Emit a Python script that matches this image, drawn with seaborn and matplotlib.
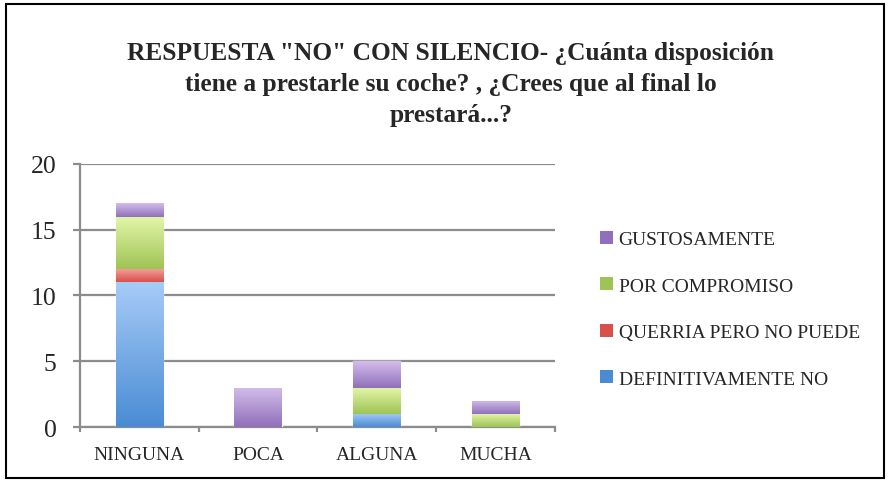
import numpy as np
import pandas as pd
import seaborn as sb
import matplotlib.pyplot as plt
from matplotlib.colors import LinearSegmentedColormap
from matplotlib.patches import Rectangle

# data
categorias = ['NINGUNA', 'POCA', 'ALGUNA', 'MUCHA']
definitivamente_no = [11, 0, 1, 0]
querria_pero_no = [1, 0, 0, 0]
por_compromiso = [4, 0, 2, 1]
gustosamente = [1, 3, 2, 1]

series = ['DEFINITIVAMENTE NO', 'QUERRIA PERO NO PUEDE', 'POR COMPROMISO', 'GUSTOSAMENTE']
valores = [definitivamente_no, querria_pero_no, por_compromiso, gustosamente]
# (top colour, bottom colour) for the excel-like gradients
gradientes = [('#a6cbf7', '#4a8cd4'), ('#f5a39c', '#d9504a'),
              ('#e3f6aa', '#9fc455'), ('#d2bdea', '#9170bb')]

sb.set_style('white')
plt.rcParams['font.family'] = ['Liberation Serif', 'DejaVu Serif']

fig = plt.figure(figsize=(8.89, 4.85), dpi=100)
ax = fig.add_axes([0.09, 0.1175, 0.534, 0.5425])

abajo = np.zeros(len(categorias))
handles = []
for nombre, vals, (c_top, c_bot) in zip(series, valores, gradientes):
    df = pd.DataFrame({'cat': categorias, 'val': vals})
    n0 = len(ax.patches)
    sb.barplot(data=df, x='cat', y='val', order=categorias, color=c_bot,
               width=0.4, bottom=abajo, ax=ax, zorder=3)
    cmap = LinearSegmentedColormap.from_list(nombre, [c_bot, c_top])
    for p in ax.patches[n0:]:
        if p.get_height() <= 0:
            continue
        x0, y0 = p.get_x(), p.get_y()
        im = ax.imshow(np.linspace(0, 1, 64).reshape(-1, 1), cmap=cmap, origin='lower',
                       extent=(x0, x0 + p.get_width(), y0, y0 + p.get_height()),
                       aspect='auto', zorder=4)
        im.set_clip_path(p)
    handles.append(Rectangle((0, 0), 1, 1, facecolor=c_bot, edgecolor='none', label=nombre))
    abajo = abajo + np.array(vals)

ax.set_xlim(-0.5, len(categorias) - 0.5)
ax.set_ylim(0, 20)
ax.set_yticks([0, 5, 10, 15, 20])
ax.set_xlabel('')
ax.set_ylabel('')
ax.grid(axis='y', color='#8c8c8c', linewidth=1.6, zorder=1)
ax.set_axisbelow(True)
for s in ['top', 'right']:
    ax.spines[s].set_visible(False)
ax.spines['left'].set_color('#8c8c8c')
ax.spines['left'].set_linewidth(1.6)
ax.spines['bottom'].set_color('#8c8c8c')
ax.spines['bottom'].set_linewidth(1.6)
ax.tick_params(axis='y', labelsize=18.5, length=5, width=1.6, color='#8c8c8c',
               direction='out', left=True, pad=12)
ax.tick_params(axis='x', which='major', labelsize=14, length=0, pad=14)
ax.set_xticks(np.arange(-0.5, len(categorias)), minor=True)
ax.tick_params(axis='x', which='minor', length=3.5, width=1.6, color='#8c8c8c',
               direction='out', bottom=True)

leg = fig.legend(handles=handles[::-1], loc='center left', frameon=False, fontsize=14,
                 handlelength=0.65, handleheight=0.65, handletextpad=0.3,
                 labelspacing=1.5, borderaxespad=0, borderpad=0)
leg.set_bbox_to_anchor((0.675, 0.36), transform=fig.transFigure)

fig.text(0.507, 0.825, 'RESPUESTA "NO" CON SILENCIO- ¿Cuánta disposición\n'
         'tiene a prestarle su coche? , ¿Crees que al final lo\nprestará...?',
         ha='center', va='center', fontsize=18.3, fontweight='bold', linespacing=1.45)

fig.patches.append(Rectangle((0.007, 0.013), 0.987, 0.977, transform=fig.transFigure,
                             fill=False, edgecolor='black', linewidth=1.5))

fig.savefig('out.png', dpi=100)
